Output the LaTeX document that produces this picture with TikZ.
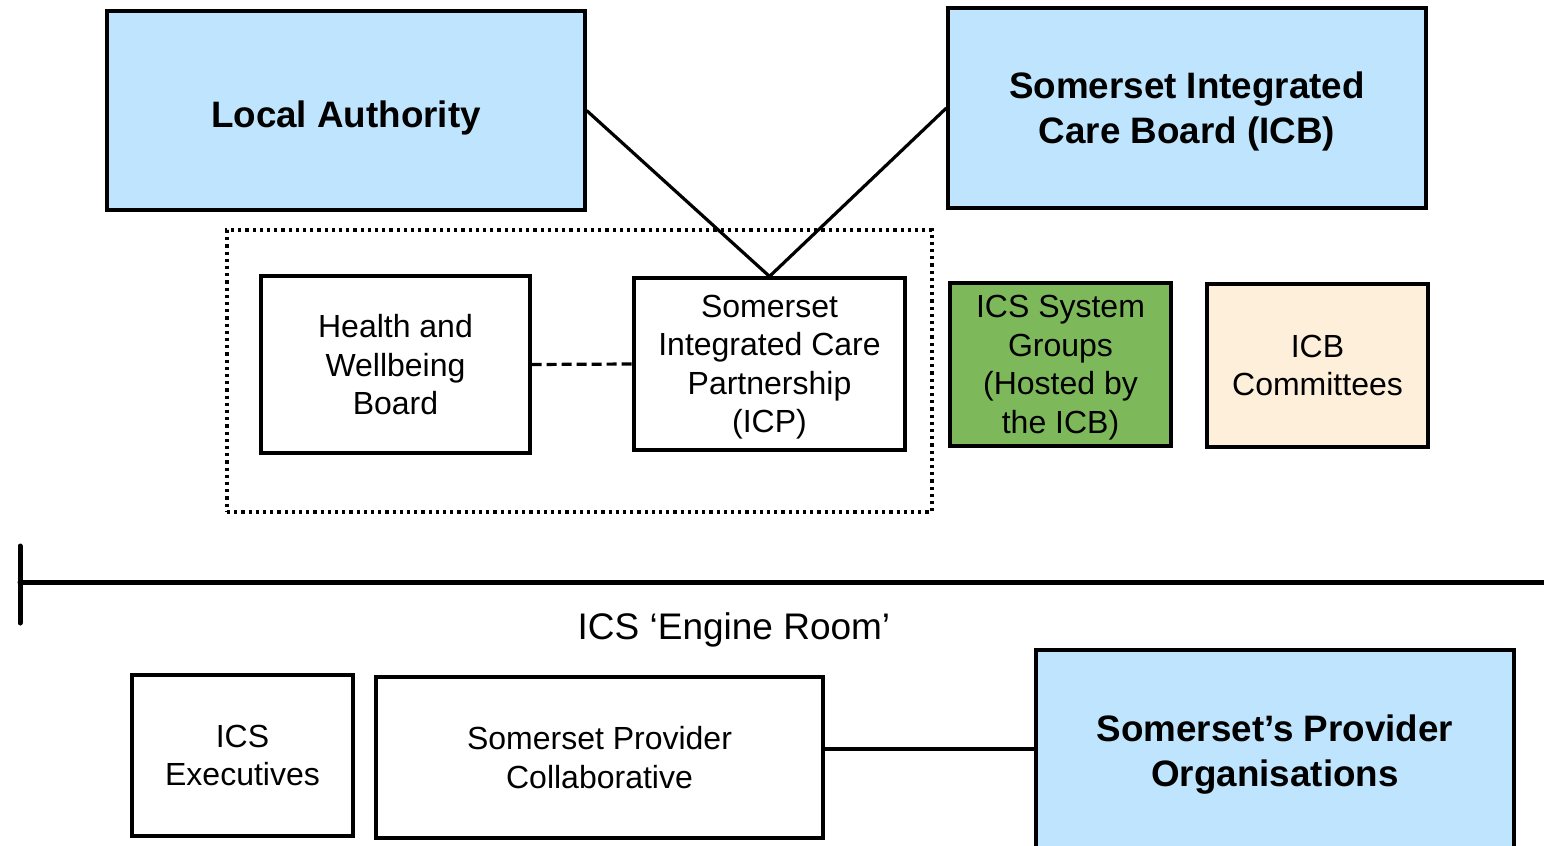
\documentclass[tikz,border=0pt]{standalone}
\usepackage{fontspec}
\setmainfont{Liberation Sans}
\definecolor{lblue}{RGB}{190,229,253}
\definecolor{lgreen}{RGB}{125,185,90}
\definecolor{lbeige}{RGB}{254,239,218}
\tikzset{
  box/.style={draw, line width=1.6pt, inner sep=0pt, align=center, text depth=0pt,
    execute at begin node={\rule{0pt}{0.9em}},
    font=\fontsize{16}{19.25}\selectfont},
  bigbox/.style={box, fill=lblue, font=\bfseries\fontsize{18.4}{22.5}\selectfont},
  link/.style={line width=1.6pt},
  dashlink/.style={line width=1.6pt, dash pattern=on 5pt off 2.5pt},
  dotframe/.style={draw, line width=1.7pt, dash pattern=on 1.6pt off 2pt, inner sep=0pt},
  bar/.style={line width=2.5pt, line cap=round}
}
\begin{document}
\begin{tikzpicture}[x=0.5pt, y=-0.5pt]
\clip (0,0) rectangle (1544,846);
\fill[white] (0,0) rectangle (1544,846);
% dotted frame
\node[dotframe, minimum width=352.5pt, minimum height=141pt] (frame) at (579.5,371) {};
% top boxes
\node[bigbox, minimum width=239pt, minimum height=99.5pt] (la) at (346,110.5) {Local Authority};
\node[bigbox, minimum width=239pt, minimum height=100pt] (icb) at (1187,108) {Somerset Integrated\\Care Board (ICB)};
% middle boxes
\node[box, fill=white, minimum width=134.5pt, minimum height=88.5pt] (hwb) at (395.5,364.5) {Health and\\Wellbeing\\Board};
\node[box, fill=white, minimum width=135.5pt, minimum height=86pt] (icp) at (769.5,364) {Somerset\\Integrated Care\\Partnership\\(ICP)};
\node[box, fill=lgreen, minimum width=110.5pt, minimum height=81.5pt] (grp) at (1060.5,364.5) {ICS System\\Groups\\(Hosted by\\the ICB)};
\node[box, fill=lbeige, minimum width=110.5pt, minimum height=81.5pt] (com) at (1317.5,365.5) {ICB\\Committees};
% connectors
\draw[link] (la.east) -- (icp.north);
\draw[link] (icb.west) -- (icp.north);
\draw[dashlink] (hwb.east) -- (icp.west);
% engine room bar
\coordinate (barL) at (20,582);
\coordinate (barR) at (1550,582);
\coordinate (tickT) at (20,546);
\coordinate (tickB) at (20,623);
\draw[bar] (barL) -- (barR);
\draw[bar] (tickT) -- (tickB);
\node[font=\fontsize{18.5}{22}\selectfont, inner sep=0pt, text depth=0pt] (eng) at (734,626) {ICS ‘Engine Room’};
% bottom boxes
\node[box, fill=white, minimum width=110.5pt, minimum height=80.5pt] (exe) at (242.5,755.5) {ICS\\Executives};
\node[box, fill=white, minimum width=223.5pt, minimum height=80.5pt] (spc) at (599.5,757.5) {Somerset Provider\\Collaborative};
\node[bigbox, minimum width=239pt, minimum height=100.5pt] (spo) at (1275,750.5) {Somerset’s Provider\\Organisations};
\coordinate (jn) at (823,749);
\draw[link] (spc.east |- jn) -- (spo.west |- jn);
\end{tikzpicture}
\end{document}
